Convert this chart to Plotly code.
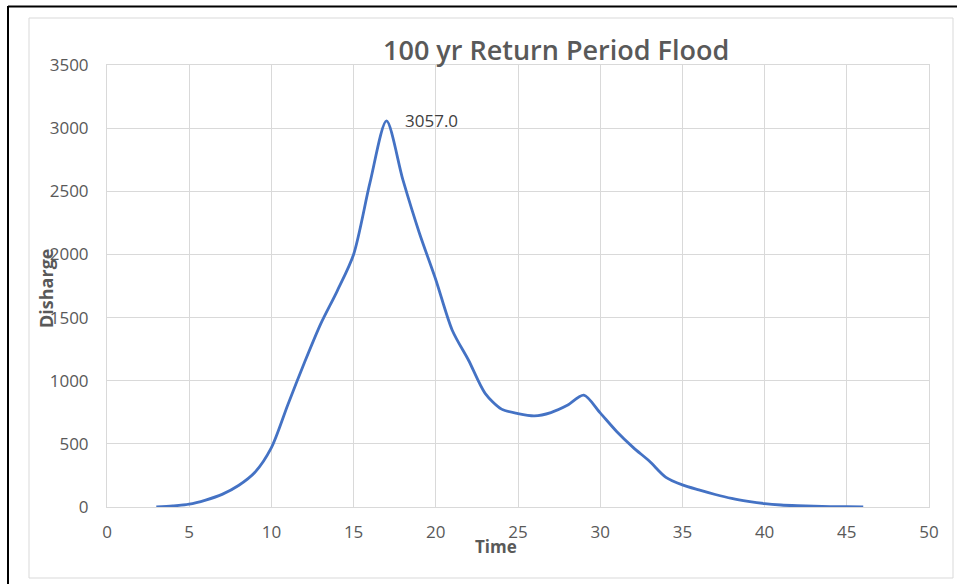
import plotly.graph_objects as go

# Data
time = [3, 4, 5, 6, 7, 8, 9, 10, 11, 12, 13, 14, 15, 16, 17, 18, 19, 20, 21, 22, 23, 24,
        25, 26, 27, 28, 29, 30, 31, 32, 33, 34, 35, 36, 37, 38, 39, 40, 41, 42, 43, 44, 45, 46]
discharge = [0, 8, 22, 55, 100, 170, 275, 470, 810, 1140, 1450, 1710, 2000, 2570, 3057, 2590,
             2170, 1800, 1400, 1160, 900, 775, 740, 722, 748, 805, 886, 745, 598, 472, 362, 235,
             175, 135, 99, 68, 45, 27, 16, 10, 6, 3, 2, 1]
peak_label = "3057.0"
peak_time = 17
peak_value = 3057

title_text = "100 yr Return Period Flood"
x_title = "Time"
y_title = "Disharge"

W, H = 957, 584
L, R, T, B = 107, 28, 65, 77
PW, PH = W - L - R, H - T - B


def px(x):
    return (x - L) / PW


def py(y):
    return (H - B - y) / PH


fig = go.Figure()
fig.add_trace(go.Scatter(
    x=time, y=discharge, mode="lines",
    line=dict(color="#4472C4", width=2.8, shape="spline", smoothing=0.8),
    hoverinfo="x+y", showlegend=False,
))

grid = "#d9d9d9"
tickfont = dict(family="Open Sans, sans-serif", size=17, color="#595959")

fig.update_layout(
    width=W, height=H,
    margin=dict(l=L, r=R, t=T, b=B),
    paper_bgcolor="white", plot_bgcolor="white",
    xaxis=dict(range=[0, 50], dtick=5, tick0=0, showgrid=True, gridcolor=grid, gridwidth=1,
               zeroline=False, showline=True, linecolor=grid, linewidth=1, mirror=True,
               ticks="", tickfont=tickfont, ticklabelstandoff=10, fixedrange=True),
    yaxis=dict(range=[0, 3500], dtick=500, tick0=0, showgrid=True, gridcolor=grid, gridwidth=1,
               zeroline=False, showline=True, linecolor=grid, linewidth=1, mirror=True,
               ticks="", tickfont=tickfont, ticklabelstandoff=14, fixedrange=True),
    font=dict(family="Open Sans, sans-serif", color="#595959"),
)

annotations = [
    dict(text=title_text, xref="paper", yref="paper", x=px(556), y=py(50),
         xanchor="center", yanchor="middle", showarrow=False,
         font=dict(family="Open Sans, sans-serif", size=27, color="#595959", weight=600)),
    dict(text=x_title, xref="paper", yref="paper", x=px(496), y=py(546),
         xanchor="center", yanchor="middle", showarrow=False,
         font=dict(family="Open Sans, sans-serif", size=17, color="#595959", weight=700)),
    dict(text=y_title, xref="paper", yref="paper", x=px(46), y=py(288),
         xanchor="center", yanchor="middle", showarrow=False, textangle=-90,
         font=dict(family="Open Sans, sans-serif", size=18, color="#595959", weight=700)),
    dict(text=peak_label, x=peak_time, y=peak_value, xref="x", yref="y",
         xanchor="left", yanchor="middle", xshift=17, yshift=0, showarrow=False,
         font=dict(family="Open Sans, sans-serif", size=17, color="#404040")),
]
fig.update_layout(annotations=annotations)

shapes = [
    # outer chart-area border (light grey)
    dict(type="rect", xref="paper", yref="paper", x0=px(29), x1=px(953), y0=py(578), y1=py(18),
         line=dict(color="#d9d9d9", width=1), layer="below"),
    # black frame lines of the page
    dict(type="line", xref="paper", yref="paper", x0=px(8), x1=px(960), y0=py(6.5), y1=py(6.5),
         line=dict(color="black", width=2)),
    dict(type="line", xref="paper", yref="paper", x0=px(8), x1=px(8), y0=py(6), y1=py(590),
         line=dict(color="black", width=2)),
]
fig.update_layout(shapes=shapes)

fig.write_html("out.html", config={"displayModeBar": False},
               post_script="document.body.style.margin='0';document.body.style.padding='0';")
